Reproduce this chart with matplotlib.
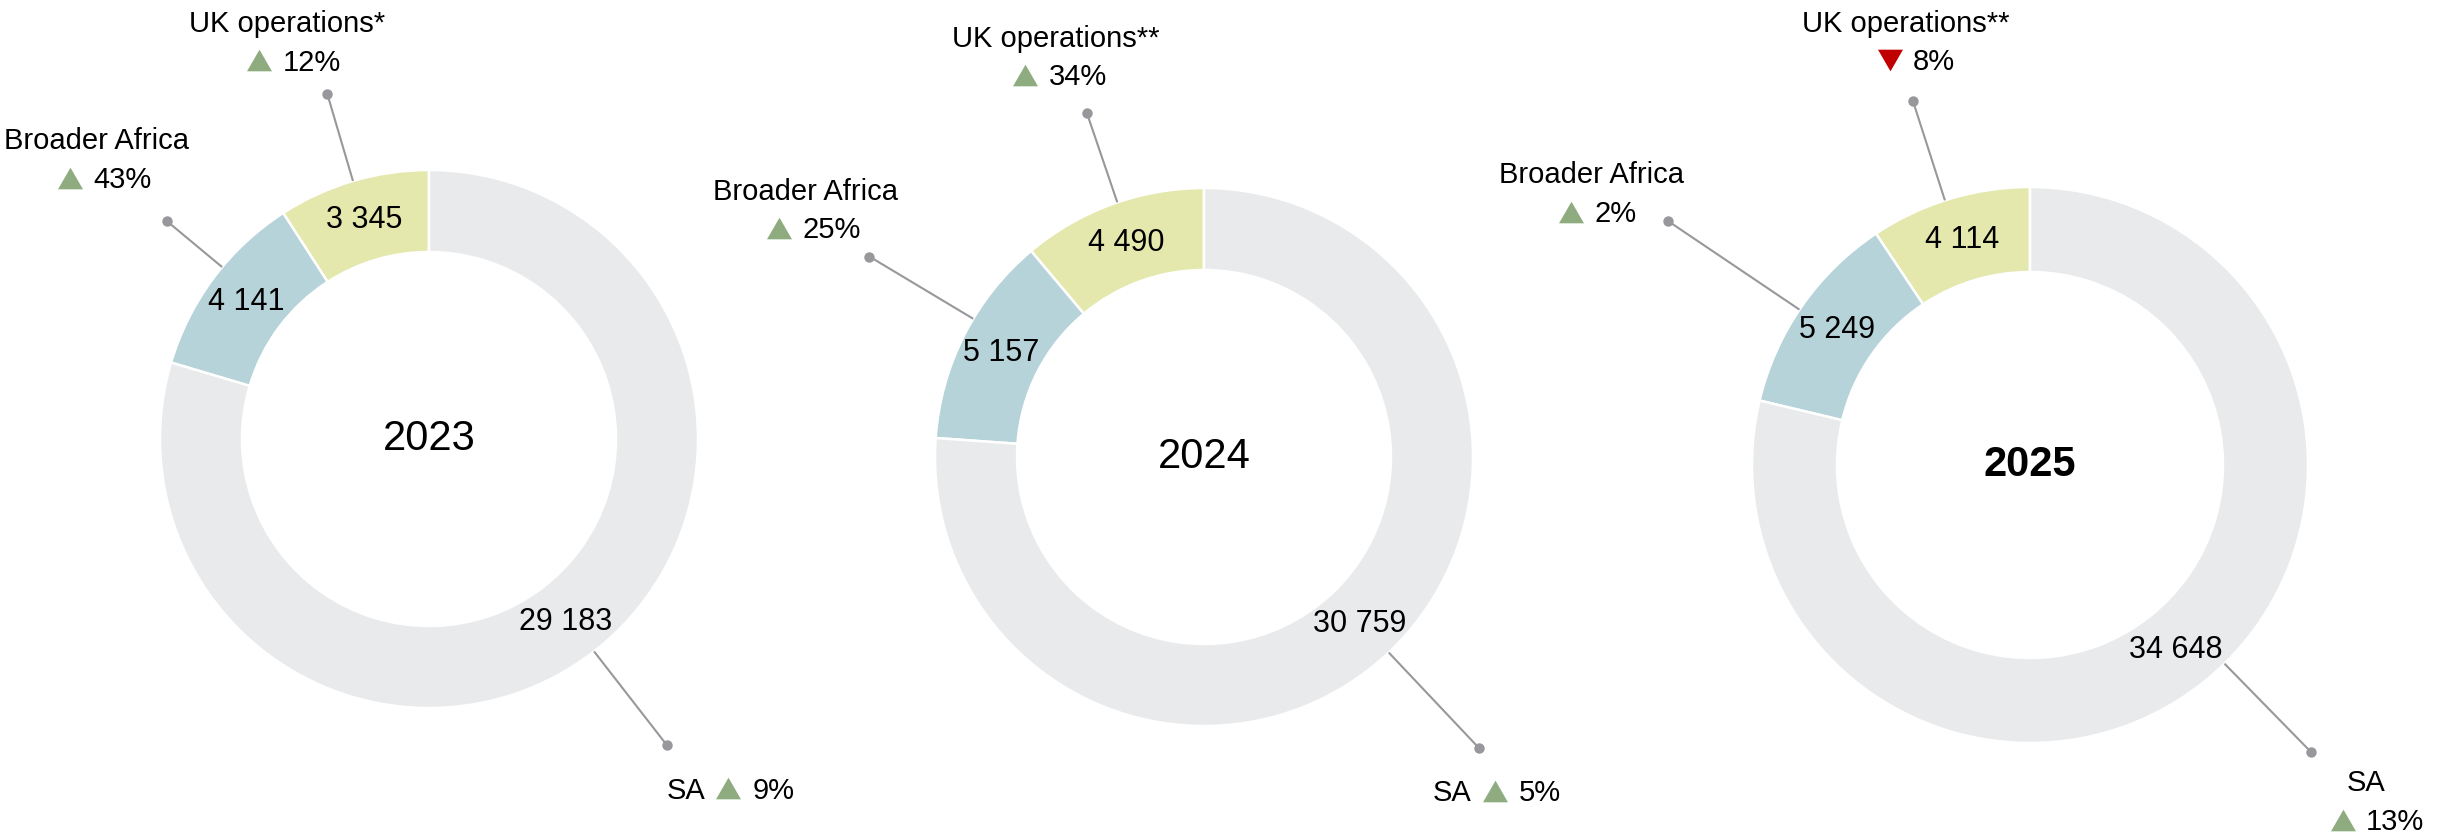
import matplotlib.pyplot as plt
import numpy as np
from matplotlib.path import Path

years = ['2023', '2024', '2025']
uk_names = ['UK operations*', 'UK operations**', 'UK operations**']
uk_ops = [3345, 4490, 4114]
broader_africa = [4141, 5157, 5249]
sa = [29183, 30759, 34648]
uk_change = [12, 34, -8]
africa_change = [43, 25, 2]
sa_change = [9, 5, 13]

W, H, DPI = 2446, 834, 100
plt.rcParams['font.family'] = ['Liberation Sans Narrow', 'Liberation Sans', 'DejaVu Sans']

seg_colors = ['#e4e8ad', '#b6d3d9', '#e9eaec']
UP, DOWN, LEADER = '#8fac80', '#c00000', '#98989c'

# donut geometry in pixels: centre x, centre y, outer radius, inner radius
donuts = [(429, 439, 269, 187), (1204, 457, 269, 187), (2030, 465, 278, 193)]

# callout layout per segment (UK, Africa, SA):
# stack  -> angle nudge, dot radius px, name dx/dy from dot (px, y down), split dx
# inline -> angle nudge, dot radius px, text dx/dy from dot
callouts = [
    [('stack', 0.0, 360, -40.6, -72, -9.5),
     ('stack', -2.9, 341, -70.0, -82, -8.7),
     ('inline', 1.1, 388, -0.6, 43)],
    [('stack', -1.2, 363, -31.0, -77, -13.0),
     ('stack', -3.9, 390, -63.7, -67, -9.2),
     ('inline', 0.4, 400, -46.0, 43)],
    [('stack', 1.0, 382, -7.6, -80, 2.2),
     ('stack', 0.9, 436, -76.7, -48.5, -2.3),
     ('stack', 6.1, 402, 54.5, 29, -5.0)],
]

LINE_GAP = 38.7
FS_LABEL = 21
HALF_CAP = 0.35 * FS_LABEL * DPI / 72

tri_up = Path([(-1, -0.866), (1, -0.866), (0, 0.866), (-1, -0.866)],
              [Path.MOVETO, Path.LINETO, Path.LINETO, Path.CLOSEPOLY])
tri_down = Path([(-1, 0.866), (1, 0.866), (0, -0.866), (-1, 0.866)],
                [Path.MOVETO, Path.LINETO, Path.LINETO, Path.CLOSEPOLY])

fig = plt.figure(figsize=(W / DPI, H / DPI), dpi=DPI)


def fmt(v):
    return f'{v:,}'.replace(',', ' ')


def change_mark(ax, x, y, change):
    marker = tri_up if change >= 0 else tri_down
    color = UP if change >= 0 else DOWN
    ax.plot(x, y, marker=marker, ms=18, color=color, mec='none',
            ls='none', clip_on=False)


for i, year in enumerate(years):
    cx, cy, r, r_in = donuts[i]
    ax = fig.add_axes([(cx - r) / W, (H - cy - r) / H, 2 * r / W, 2 * r / H])
    vals = [uk_ops[i], broader_africa[i], sa[i]]
    wedges, _ = ax.pie(vals, colors=seg_colors, startangle=90, counterclock=True,
                       radius=1, wedgeprops=dict(width=1 - r_in / r,
                                                 edgecolor='white', linewidth=1.8))
    ax.set_xlim(-1, 1)
    ax.set_ylim(-1, 1)
    ax.axis('off')

    px = 1 / r  # one pixel in data units
    mid_r = (1 + r_in / r) / 2

    ax.text(0, 0, year, ha='center', va='center', fontsize=30,
            fontweight='bold' if i == len(years) - 1 else 'normal')

    names = [uk_names[i], 'Broader Africa', 'SA']
    changes = [uk_change[i], africa_change[i], sa_change[i]]

    for w, v, name, ch, spec in zip(wedges, vals, names, changes, callouts[i]):
        mid = np.deg2rad((w.theta1 + w.theta2) / 2)
        ax.text(mid_r * np.cos(mid), mid_r * np.sin(mid), fmt(v),
                ha='center', va='center', fontsize=22)

        ang = mid + np.deg2rad(spec[1])
        dot_r = spec[2] * px
        dx, dy = np.cos(ang), np.sin(ang)
        ax.plot([dx, dot_r * dx], [dy, dot_r * dy], color=LEADER, lw=1.5,
                clip_on=False, solid_capstyle='butt')
        ax.plot(dot_r * dx, dot_r * dy, 'o', ms=7.5, color=LEADER, mec='none',
                clip_on=False)
        x0, y0 = dot_r * dx, dot_r * dy
        pct = f'{abs(ch)}%'

        if spec[0] == 'stack':
            nx = x0 + spec[3] * px
            ny = y0 - spec[4] * px
            ax.text(nx, ny - HALF_CAP * px, name, ha='center', va='baseline',
                    fontsize=FS_LABEL, clip_on=False)
            ly = ny - LINE_GAP * px
            split = nx + spec[5] * px
            change_mark(ax, split - 18 * px, ly, ch)
            ax.text(split + 5.5 * px, ly - HALF_CAP * px, pct, ha='left',
                    va='baseline', fontsize=FS_LABEL, clip_on=False)
        else:
            tx = x0 + spec[3] * px
            ty = y0 - spec[4] * px
            ax.text(tx, ty - HALF_CAP * px, name, ha='left', va='baseline',
                    fontsize=FS_LABEL, clip_on=False)
            change_mark(ax, tx + 62 * px, ty, ch)
            ax.text(tx + 86 * px, ty - HALF_CAP * px, pct, ha='left',
                    va='baseline', fontsize=FS_LABEL, clip_on=False)

fig.savefig('out.png', dpi=DPI, facecolor='white')
